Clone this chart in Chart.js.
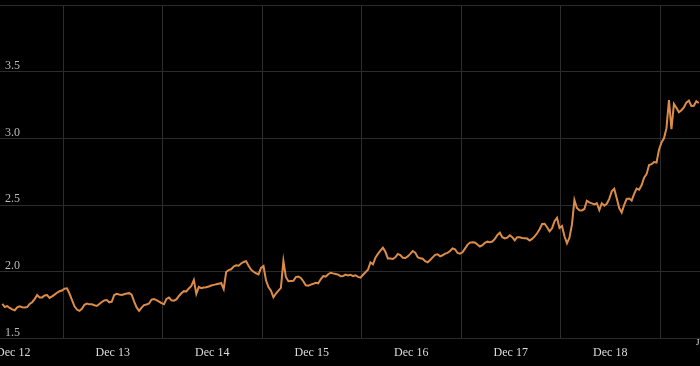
<!DOCTYPE html>
<html>
<head>
<meta charset="utf-8">
<title>Rate chart</title>
<script src="https://cdn.jsdelivr.net/npm/chart.js@4/dist/chart.umd.min.js"></script>
<style>
    html, body { margin: 0; padding: 0; background: #000; }
    #wrap { width: 700px; height: 366px; position: relative; }
</style>
</head>
<body>
<div id="wrap"><canvas id="rateChart"></canvas></div>
<script>
// Axis ticks: labels sit on whole days, grid lines at the half days
const labelDays = [12, 13, 14, 15, 16, 17, 18];
const labelNames = ["Dec 12", "Dec 13", "Dec 14", "Dec 15", "Dec 16", "Dec 17", "Dec 18"];
const gridDays = [12.5, 13.5, 14.5, 15.5, 16.5, 17.5, 18.5];
const yTicks = [1.5, 2.0, 2.5, 3.0, 3.5, 4.0];

// Series: one reading every 0.025 day starting at day 11.89
const startDay = 11.89;
const stepDay = 0.025;
const rates = [
    1.759, 1.736, 1.743, 1.729, 1.718, 1.712, 1.734, 1.742, 1.735, 1.733,
    1.736, 1.759, 1.772, 1.795, 1.825, 1.807, 1.808, 1.822, 1.826, 1.804,
    1.816, 1.829, 1.843, 1.854, 1.860, 1.873, 1.876, 1.837, 1.790, 1.741,
    1.717, 1.707, 1.723, 1.753, 1.762, 1.756, 1.756, 1.749, 1.744, 1.759,
    1.774, 1.786, 1.788, 1.771, 1.776, 1.826, 1.835, 1.830, 1.826, 1.832,
    1.837, 1.840, 1.828, 1.776, 1.733, 1.708, 1.732, 1.750, 1.755, 1.762,
    1.792, 1.795, 1.788, 1.777, 1.765, 1.757, 1.797, 1.807, 1.786, 1.783,
    1.793, 1.819, 1.839, 1.855, 1.853, 1.875, 1.894, 1.939, 1.834, 1.886,
    1.877, 1.882, 1.884, 1.890, 1.897, 1.902, 1.906, 1.911, 1.916, 1.871,
    1.999, 2.013, 2.019, 2.040, 2.049, 2.046, 2.062, 2.074, 2.079, 2.046,
    2.016, 2.000, 1.989, 1.981, 2.029, 2.043, 1.936, 1.886, 1.859, 1.809,
    1.837, 1.859, 1.879, 2.081, 1.961, 1.929, 1.931, 1.932, 1.960, 1.964,
    1.954, 1.929, 1.899, 1.896, 1.904, 1.910, 1.918, 1.914, 1.944, 1.968,
    1.964, 1.982, 1.993, 1.988, 1.984, 1.979, 1.967, 1.969, 1.979, 1.972,
    1.977, 1.968, 1.974, 1.962, 1.956, 1.978, 1.997, 2.015, 2.071, 2.056,
    2.106, 2.134, 2.158, 2.180, 2.150, 2.100, 2.100, 2.096, 2.109, 2.134,
    2.125, 2.105, 2.103, 2.115, 2.134, 2.156, 2.144, 2.109, 2.101, 2.098,
    2.080, 2.071, 2.089, 2.108, 2.127, 2.131, 2.116, 2.124, 2.136, 2.142,
    2.156, 2.175, 2.169, 2.141, 2.136, 2.146, 2.174, 2.202, 2.219, 2.221,
    2.219, 2.205, 2.190, 2.199, 2.217, 2.226, 2.222, 2.227, 2.247, 2.275,
    2.293, 2.259, 2.250, 2.256, 2.274, 2.259, 2.235, 2.259, 2.259, 2.253,
    2.251, 2.249, 2.235, 2.247, 2.265, 2.289, 2.319, 2.358, 2.360, 2.334,
    2.303, 2.326, 2.380, 2.405, 2.328, 2.343, 2.266, 2.213, 2.256, 2.353,
    2.538, 2.478, 2.462, 2.460, 2.471, 2.532, 2.521, 2.513, 2.505, 2.514,
    2.463, 2.514, 2.496, 2.510, 2.547, 2.603, 2.622, 2.551, 2.478, 2.445,
    2.502, 2.547, 2.549, 2.534, 2.584, 2.624, 2.615, 2.649, 2.705, 2.732,
    2.801, 2.807, 2.823, 2.819, 2.915, 2.969, 3.001, 3.077, 3.288, 3.070,
    3.258, 3.229, 3.196, 3.211, 3.233, 3.268, 3.284, 3.243, 3.244, 3.278,
    3.265
];

const points = rates.map((v, i) => ({ x: startDay + i * stepDay, y: v }));

// Small label sitting at the right edge of the axis
const edgeLabel = {
    id: "edgeLabel",
    afterDraw(chart) {
        const ctx = chart.ctx;
        ctx.save();
        ctx.fillStyle = "#dddddd";
        ctx.font = "9px 'Liberation Serif', serif";
        ctx.textAlign = "left";
        ctx.textBaseline = "top";
        ctx.fillText("J", 696, chart.chartArea.bottom);
        ctx.restore();
    },
};

// Keep the plot flush with the canvas edges
function noPadding(scale) {
    scale.paddingLeft = 0;
    scale.paddingRight = 0;
    scale.paddingTop = 0;
    scale.paddingBottom = 0;
}

function renderChart() {
    const ctx = document.getElementById("rateChart").getContext("2d");
    new Chart(ctx, {
        type: "line",
        data: {
            datasets: [
                {
                    data: points,
                    borderColor: "#dc8c48",
                    borderWidth: 2,
                    pointRadius: 0,
                    tension: 0,
                    fill: false,
                },
            ],
        },
        options: {
            responsive: true,
            maintainAspectRatio: false,
            animation: false,
            layout: { padding: { top: 5, bottom: 6, left: 0, right: 0 } },
            plugins: {
                legend: { display: false },
                tooltip: { enabled: false },
            },
            scales: {
                x: {
                    type: "linear",
                    min: 11.8668,
                    max: 18.902,
                    afterBuildTicks: (scale) => {
                        scale.ticks = labelDays.map((d) => ({ value: d }));
                    },
                    afterFit: (scale) => {
                        noPadding(scale);
                        scale.height = 21.5;
                    },
                    ticks: {
                        autoSkip: false,
                        maxRotation: 0,
                        padding: 7,
                        color: "#dddddd",
                        font: { family: "'Liberation Serif', serif", size: 12 },
                        callback: (value) => labelNames[labelDays.indexOf(value)],
                    },
                    grid: { display: false, drawTicks: false },
                    border: { display: false },
                },
                xGrid: {
                    type: "linear",
                    position: "bottom",
                    min: 11.8668,
                    max: 18.902,
                    afterBuildTicks: (scale) => {
                        scale.ticks = gridDays.map((d) => ({ value: d }));
                    },
                    afterFit: (scale) => {
                        noPadding(scale);
                        scale.height = 0;
                    },
                    ticks: { display: false },
                    grid: { color: "#2c2c2c", lineWidth: 1, drawTicks: false },
                    border: { display: false },
                },
                y: {
                    min: 1.5,
                    max: 4.0,
                    afterBuildTicks: (scale) => {
                        scale.ticks = yTicks.map((v) => ({ value: v }));
                    },
                    afterFit: (scale) => {
                        noPadding(scale);
                        scale.width = 0;
                    },
                    ticks: {
                        mirror: true,
                        padding: 5,
                        labelOffset: -6,
                        color: "#bbbbbb",
                        font: { family: "'Liberation Serif', serif", size: 12 },
                        callback: (value) => (value >= 4 ? "" : value.toFixed(1)),
                    },
                    grid: { color: "#2c2c2c", lineWidth: 1, drawTicks: false },
                    border: { display: false },
                },
            },
        },
        plugins: [edgeLabel],
    });
}

document.addEventListener("DOMContentLoaded", renderChart);
</script>
</body>
</html>
